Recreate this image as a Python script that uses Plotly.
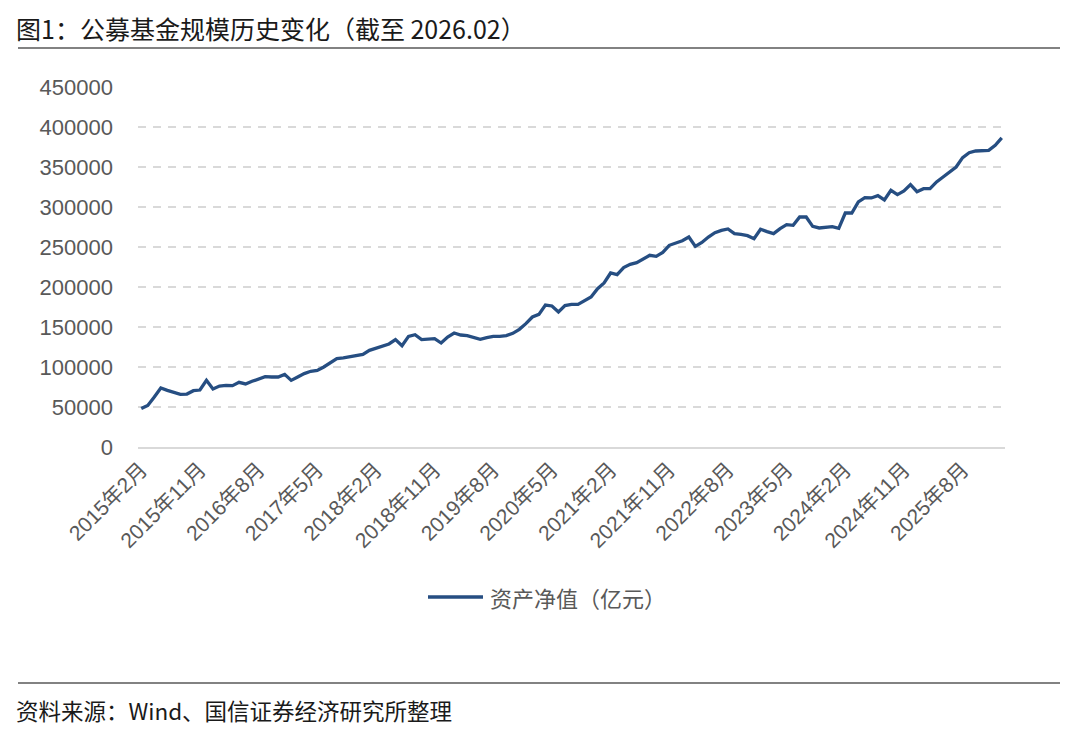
import plotly.graph_objects as go

# Monthly categories 2015-02 .. 2026-02
start_year, start_month, n_months = 2015, 2, 133
categories = []
for k in range(n_months):
    m = start_month - 1 + k
    categories.append(f"{start_year + m // 12}年{m % 12 + 1}月")

# 资产净值（亿元）
net_assets = [
    48000, 52000, 62500, 73700, 70800, 68300, 65800, 66200, 70400, 71200,   # 2015-02..2015-11
    83300, 72500, 76200, 77100, 76700, 80800, 78800, 82100, 84600, 87900,   # 2015-12..2016-09
    87500, 87500, 90800, 83300, 87500, 91700, 94600, 95800, 100000, 105400, # 2016-10..2017-07
    110400, 111300, 112500, 113800, 115800, 120800, 123800, 125800, 128800, 134200,  # ..2018-05
    126700, 138300, 140400, 134200, 134600, 135400, 130000, 137500, 142500, 140000,  # ..2019-03
    139200, 137100, 134600, 136700, 138300, 138300, 139200, 142100, 147100, 154200,  # ..2020-01
    162500, 165800, 177500, 176300, 168800, 176700, 178300, 178300, 182500, 187500,  # ..2020-11
    197900, 205000, 217500, 215400, 224200, 228300, 230400, 234600, 239600, 238300,  # ..2021-09
    243300, 252100, 255400, 257900, 262500, 250800, 255600, 262500, 267900, 270800,  # ..2022-07
    272500, 266700, 265800, 264200, 260400, 272100, 269200, 266700, 272900, 277900,  # ..2023-05
    277100, 287500, 287500, 275800, 273800, 274200, 275400, 273300, 292500, 292500,  # ..2024-03
    306300, 311700, 311300, 314200, 308800, 320800, 315400, 320000, 327900, 319200,  # ..2025-01
    322900, 322900, 331300, 337500, 343800, 350000, 361700, 367900, 370000, 370800,  # ..2025-11
    370800, 377100, 386300,                                                          # ..2026-02
]

series_name = "资产净值（亿元）"
title_text = "图1：公募基金规模历史变化（截至 2026.02）"
source_text = "资料来源：Wind、国信证券经济研究所整理"
y_ticks = [0, 50000, 100000, 150000, 200000, 250000, 300000, 350000, 400000, 450000]
x_ticks = categories[::9]

LINE_COLOR = "#264E82"
FONT = "Liberation Sans, Arial, Noto Sans CJK SC, sans-serif"
CJK = "Noto Sans CJK SC, Liberation Sans, sans-serif"

# page has an 8px body margin; figure sized to fit the window
OFF = 8
W, H = 1072, 736
L, R, T, B = 130, 75, 79, 297
pw, ph = W - L - R, H - T - B

def px_x(x):  # page pixel -> paper
    return (x - OFF - L) / pw

def px_y(y):
    return (H - B - (y - OFF)) / ph

fig = go.Figure()
fig.add_trace(go.Scatter(
    x=categories, y=net_assets, mode="lines", name=series_name,
    line=dict(color=LINE_COLOR, width=3.3), showlegend=False,
))

fig.update_layout(
    width=W, height=H,
    margin=dict(l=L, r=R, t=T, b=B),
    paper_bgcolor="white", plot_bgcolor="white",
    font=dict(family=FONT, color="#595959"),
    xaxis=dict(
        type="category", range=[-0.5, n_months - 0.5],
        tickmode="array", tickvals=x_ticks, ticktext=x_ticks,
        tickangle=-45, tickfont=dict(family=FONT, size=21, color="#595959"),
        showgrid=False, showline=True, linecolor="#D9D9D9", linewidth=2,
        ticks="", zeroline=False,
    ),
    yaxis=dict(
        range=[0, 450000], tickmode="array", tickvals=y_ticks,
        ticktext=[str(v) for v in y_ticks],
        tickfont=dict(family=FONT, size=22, color="#595959"),
        showgrid=True, gridcolor="#D9D9D9", gridwidth=2, griddash="8px,7px",
        zeroline=False, showline=False, ticks="", ticklabelstandoff=24,
    ),
    shapes=[
        dict(type="line", xref="paper", yref="paper", x0=px_x(18), x1=px_x(1060),
             y0=px_y(48), y1=px_y(48), line=dict(color="#595959", width=1.5)),
        dict(type="line", xref="paper", yref="paper", x0=px_x(18), x1=px_x(1060),
             y0=px_y(683), y1=px_y(683), line=dict(color="#595959", width=1.5)),
        # legend sample line
        dict(type="line", xref="paper", yref="paper", x0=px_x(428), x1=px_x(483),
             y0=px_y(597), y1=px_y(597), line=dict(color=LINE_COLOR, width=3.3)),
    ],
    annotations=[
        dict(text=title_text, xref="paper", yref="paper", x=px_x(14), y=px_y(28),
             xanchor="left", yanchor="middle", showarrow=False,
             font=dict(family=CJK, size=25, color="#1a1a1a")),
        dict(text=series_name, xref="paper", yref="paper", x=px_x(488), y=px_y(597),
             xanchor="left", yanchor="middle", showarrow=False,
             font=dict(family=CJK, size=22, color="#595959")),
        dict(text=source_text, xref="paper", yref="paper", x=px_x(14), y=px_y(710),
             xanchor="left", yanchor="middle", showarrow=False,
             font=dict(family=CJK, size=22.5, color="#1a1a1a")),
    ],
)

fig.write_html("out.html")
